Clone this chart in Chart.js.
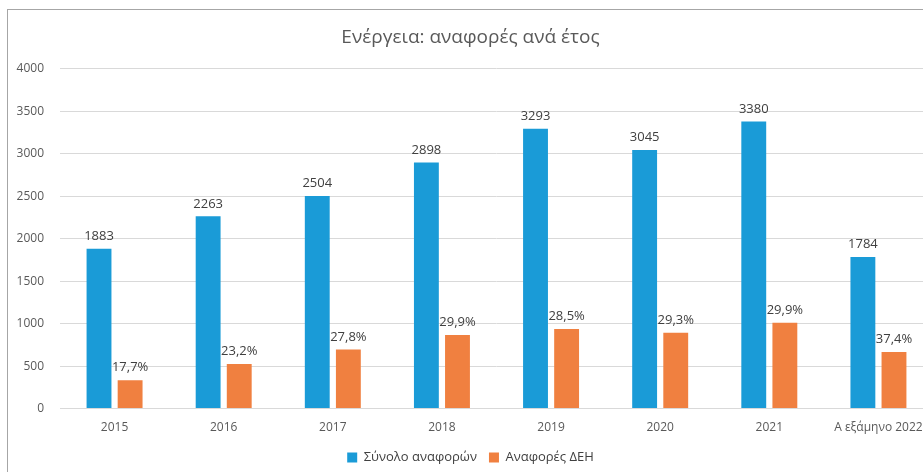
<!DOCTYPE html>
<html>
<head>
<meta charset="utf-8">
<script src="https://cdn.jsdelivr.net/npm/chart.js@4"></script>
<style>
  html, body { margin: 0; padding: 0; background: #fff; overflow: hidden; }
  #wrap { position: absolute; left: 7px; top: 9px; width: 934px; height: 480px;
          border: 1px solid #a6a6a6; background: #fff; }
</style>
</head>
<body>
<div id="wrap"><canvas id="chart" width="934" height="480"></canvas></div>
<script>
const categories = ['2015', '2016', '2017', '2018', '2019', '2020', '2021', 'Α εξάμηνο 2022'];
const totalReports = [1883, 2263, 2504, 2898, 3293, 3045, 3380, 1784];
const deiReports = [334, 525, 697, 866, 938, 892, 1011, 667];
const deiShareLabels = ['17,7%', '23,2%', '27,8%', '29,9%', '28,5%', '29,3%', '29,9%', '37,4%'];

const FONT = '"Open Sans", "Noto Sans", sans-serif';

// draws the value labels above each bar
const barLabels = {
    id: 'barLabels',
    afterDatasetsDraw(chart) {
        const ctx = chart.ctx;
        ctx.save();
        ctx.font = '13px ' + FONT;
        ctx.fillStyle = '#404040';
        ctx.textAlign = 'center';
        ctx.textBaseline = 'bottom';
        chart.data.datasets.forEach((ds, i) => {
            chart.getDatasetMeta(i).data.forEach((bar, j) => {
                const text = i === 0 ? String(ds.data[j]) : deiShareLabels[j];
                ctx.fillText(text, bar.x, bar.y - 6);
            });
        });
        ctx.restore();
    }
};

new Chart(document.getElementById('chart'), {
    type: 'bar',
    data: {
        labels: categories,
        datasets: [{
            label: 'Σύνολο αναφορών',
            data: totalReports,
            backgroundColor: '#1a9bd7',
            categoryPercentage: 0.57,
            barPercentage: 0.8
        }, {
            label: 'Αναφορές ΔΕΗ',
            data: deiReports,
            backgroundColor: '#f08040',
            categoryPercentage: 0.57,
            barPercentage: 0.8
        }]
    },
    options: {
        responsive: false,
        animation: false,
        layout: { padding: { left: 0, right: 9, top: 8, bottom: 16 } },
        plugins: {
            title: {
                display: true,
                text: 'Ενέργεια: αναφορές ανά έτος',
                color: '#595959',
                font: { family: FONT, size: 19, weight: 'normal' },
                padding: { top: 8, bottom: 20 }
            },
            legend: {
                position: 'bottom',
                labels: {
                    color: '#404040',
                    font: { family: FONT, size: 13 },
                    boxWidth: 10,
                    boxHeight: 10,
                    padding: 12
                }
            },
            tooltip: { enabled: false }
        },
        scales: {
            x: {
                grid: { display: false },
                border: { color: '#d9d9d9' },
                ticks: { color: '#595959', font: { family: FONT, size: 12 }, padding: 4 }
            },
            y: {
                min: 0,
                max: 4000,
                afterFit: s => { s.width = 52; },
                ticks: {
                    stepSize: 500,
                    color: '#595959',
                    font: { family: FONT, size: 12 },
                    padding: 16,
                    callback: v => String(v)
                },
                grid: { color: '#d9d9d9', drawTicks: false },
                border: { display: false }
            }
        }
    },
    plugins: [barLabels]
});
</script>
</body>
</html>
